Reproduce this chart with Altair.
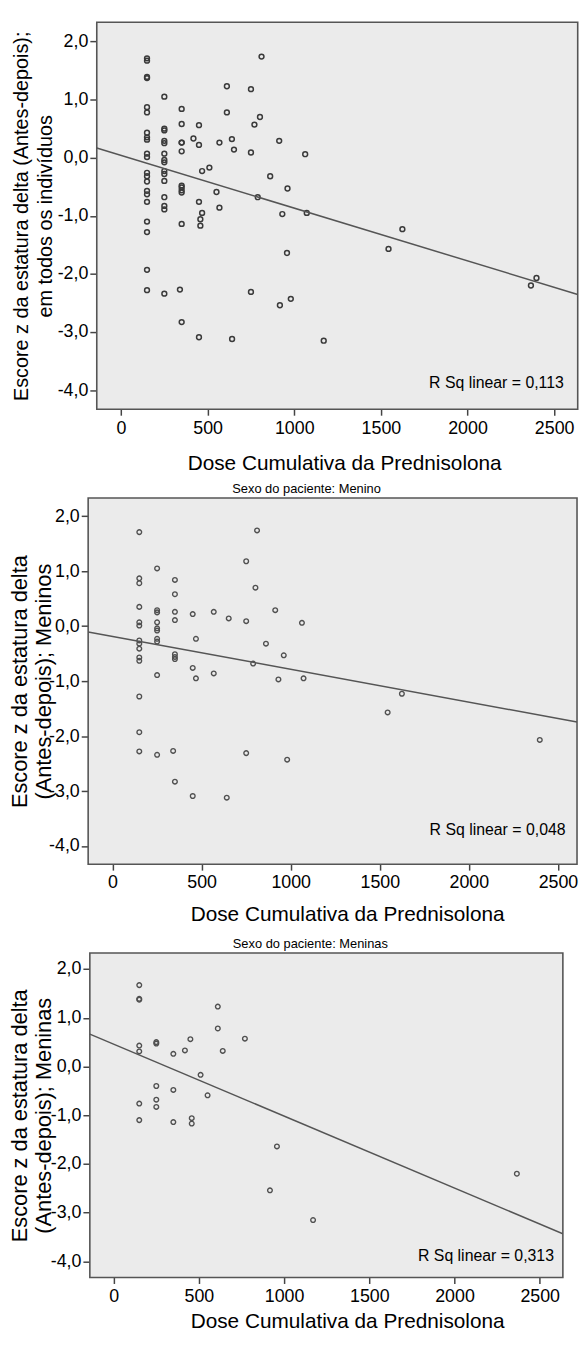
import altair as alt
import pandas as pd

# ---- data ----
boys_dose = [150, 150, 150, 150, 150, 150, 150, 150, 150, 150, 150, 150, 150, 150,
             250, 250, 250, 250, 250, 250, 250, 250, 250, 250,
             350, 350, 350, 350, 350, 350, 350, 350, 340,
             450, 450, 450, 468, 468, 568, 568, 652, 641,
             750, 750, 750, 811, 802, 789, 861, 913, 961, 931, 980, 1063, 1072, 1544, 1624, 2398]
boys_z = [1.71, 0.87, 0.78, 0.35, 0.07, 0.01, -0.26, -0.32, -0.41, -0.57, -0.63, -1.28, -1.93, -2.28,
          1.05, 0.29, 0.25, 0.07, -0.04, -0.08, -0.23, -0.28, -0.89, -2.34,
          0.84, 0.58, 0.26, 0.11, -0.51, -0.56, -0.60, -2.83, -2.27,
          0.22, -0.76, -3.09, -0.23, -0.95, 0.26, -0.86, 0.14, -3.12,
          1.18, 0.09, -2.31, 1.74, 0.70, -0.68, -0.32, 0.29, -0.53, -0.97, -2.43, 0.06, -0.95, -1.57, -1.23, -2.07]

girls_dose = [150, 150, 150, 150, 150, 150, 150,
              250, 250, 250, 250, 250,
              350, 350, 350,
              418, 450, 458, 458, 510, 551, 611, 611, 640, 770, 958, 917, 1170, 2366]
girls_z = [1.67, 1.39, 1.37, 0.43, 0.31, -0.76, -1.10,
           0.50, 0.47, -0.40, -0.68, -0.83,
           0.26, -0.48, -1.14,
           0.33, 0.56, -1.06, -1.17, -0.17, -0.59, 1.23, 0.78, 0.32, 0.57, -1.64, -2.54, -3.15, -2.20]

all_dose = boys_dose + girls_dose
all_z = boys_z + girls_z

x_ticks = [0, 500, 1000, 1500, 2000, 2500]
y_ticks = [-4, -3, -2, -1, 0, 1, 2]

rsq_labels = ["R Sq linear = 0,113", "R Sq linear = 0,048", "R Sq linear = 0,313"]
x_title = "Dose Cumulativa da Prednisolona"
y_titles = [
    ["Escore z da estatura delta (Antes-depois);", "em todos os indivíduos"],
    ["Escore z da estatura delta", "(Antes-depois); Meninos"],
    ["Escore z da estatura delta", "(Antes-depois); Meninas"],
]
subtitles = ["", "Sexo do paciente: Menino", "Sexo do paciente: Meninas"]

FONT = "Liberation Sans"
Y_LABEL = "replace(replace(format(datum.value, '.1f'), '.', ','), '\u2212', '-')"


def make_panel(dose, z, rsq, ytitle, subtitle, view_w, h, x_range, xdomain, ydomain,
               y_off, ytitle_pad, ytitle_size, xtitle_pad, xtitle_x, rsq_x, rsq_base,
               sub_x, sub_y, color, psize, pwidth):
    df = pd.DataFrame({"dose": dose, "z": z})
    xs = alt.Scale(domain=xdomain, range=x_range, nice=False, zero=False)
    ys = alt.Scale(domain=ydomain, nice=False, zero=False)
    xax = alt.Axis(values=x_ticks, format="d", title=x_title, titlePadding=xtitle_pad,
                   titleX=xtitle_x, tickSize=6, labelPadding=4, labelFlush=False)
    yax = alt.Axis(values=y_ticks, labelExpr=Y_LABEL, title=ytitle, titlePadding=ytitle_pad,
                   titleFontSize=ytitle_size, tickSize=7, labelPadding=2,
                   titleLineHeight=24, offset=y_off)

    frame_df = pd.DataFrame({"x0": [xdomain[0]], "x1": [xdomain[1]],
                             "y0": [ydomain[0]], "y1": [ydomain[1]]})
    frame = alt.Chart(frame_df).mark_rect(
        fill="#ebebeb", stroke="#555555", strokeWidth=1.6).encode(
        x=alt.X("x0:Q", scale=xs, axis=xax), x2="x1:Q",
        y=alt.Y("y0:Q", scale=ys, axis=yax), y2="y1:Q",
    )
    base = alt.Chart(df)
    pts = base.mark_point(shape="circle", filled=False, size=psize, strokeWidth=pwidth,
                          color=color, opacity=1).encode(
        x=alt.X("dose:Q", scale=xs, axis=xax),
        y=alt.Y("z:Q", scale=ys, axis=yax),
    )
    fit = base.transform_regression("dose", "z", extent=list(xdomain)).mark_line(
        color="#555555", strokeWidth=1.5, clip=True).encode(
        x=alt.X("dose:Q", scale=xs, axis=xax),
        y=alt.Y("z:Q", scale=ys, axis=yax),
    )
    ann = pd.DataFrame({"t": [rsq], "s": [subtitle]})
    txt = alt.Chart(ann).mark_text(
        align="right", baseline="alphabetic", font=FONT, fontSize=16, color="black").encode(
        text="t:N", x=alt.value(rsq_x), y=alt.value(h - rsq_base))
    layers = [frame, pts, fit, txt]
    if subtitle:
        sub = alt.Chart(ann).mark_text(
            align="center", baseline="alphabetic", font=FONT, fontSize=13, color="black").encode(
            text="s:N", x=alt.value(sub_x), y=alt.value(sub_y))
        layers.append(sub)
    return alt.layer(*layers).properties(width=view_w, height=h)


# common plot-area origin is the left edge of panel 2
p1 = make_panel(all_dose, all_z, rsq_labels[0], y_titles[0], subtitles[0],
                494.7, 391, [8.7, 494.7], [-140, 2636], [-4.33, 2.33],
                -8.7, 2.0, 20, 15.4, 258.7, 480.7, 21.7, 0, 0, "#3a3a3a", 24, 1.5)
p2 = make_panel(boys_dose, boys_z, rsq_labels[1], y_titles[1], subtitles[1],
                494, 370, [0, 494], [-137, 2607], [-4.33, 2.33],
                0, -6.7, 22, 12.1, 261.7, 482.4, 29.3, 220.7, -5.2, "#505050", 22, 1.4)
p3 = make_panel(girls_dose, girls_z, rsq_labels[2], y_titles[2], subtitles[2],
                479.7, 328, [1.7, 479.7], [-140, 2636], [-4.33, 2.33],
                -1.7, -5.0, 22, 6, 261.7, 470.7, 16.3, 224.5, -5.5, "#505050", 22, 1.4)

chart = alt.concat(
    p1, p2, p3, columns=1, spacing=89.7, bounds="flush",
    padding={"left": 0, "top": 5.5, "right": 0, "bottom": -4},
).configure_view(
    stroke="transparent"
).configure_axis(
    domain=False, grid=False, tickColor="#444444", tickWidth=1.5,
    labelFont=FONT, labelFontSize=18, labelColor="black",
    titleFont=FONT, titleFontSize=21, titleFontWeight="normal", titleColor="black",
)

chart.save("out.html", embed_options={"renderer": "svg", "actions": False})
